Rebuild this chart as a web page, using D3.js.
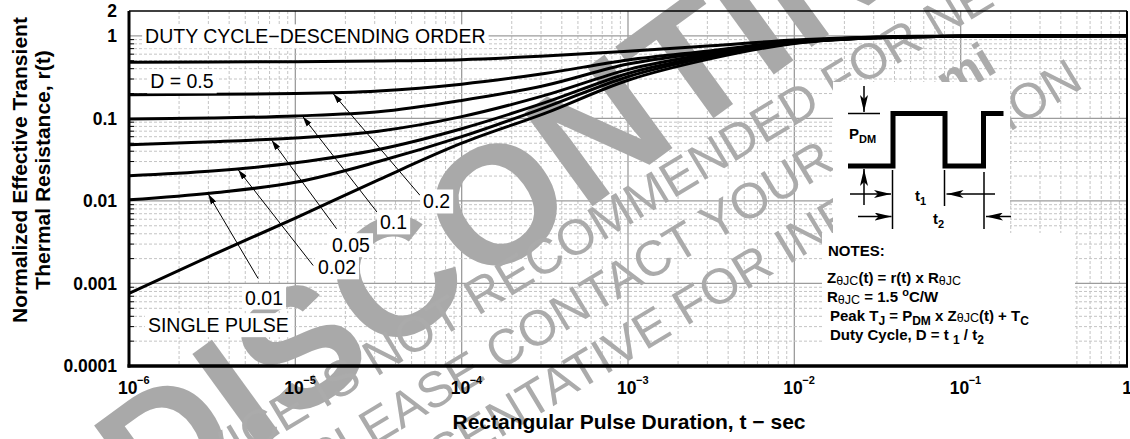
<!DOCTYPE html>
<html><head><meta charset="utf-8">
<script src="https://cdn.jsdelivr.net/npm/d3@7"></script>
<style>
body{margin:0;background:#fff}
svg{display:block}
text{font-family:"Liberation Sans",Arial,Helvetica,sans-serif}
</style>
</head><body>
<svg id="c" width="1130" height="439"></svg>
<script>
// ---------------- data ----------------
const tGrid   = [1e-6, 3.16e-6, 1e-5, 3.16e-5, 1e-4, 3.16e-4, 1e-3, 3.16e-3, 1e-2, 3.16e-2, 1e-1, 1];
const rD05    = [0.48, 0.483, 0.487, 0.497, 0.515, 0.57, 0.65, 0.76, 0.89, 0.97, 0.995, 1.0];
const rD02    = [0.194, 0.196, 0.20, 0.215, 0.26, 0.35, 0.51, 0.66, 0.86, 0.96, 0.99, 1.0];
const rD01    = [0.098, 0.101, 0.107, 0.12, 0.165, 0.25, 0.455, 0.64, 0.85, 0.96, 0.99, 1.0];
const rD005   = [0.048, 0.052, 0.058, 0.07, 0.105, 0.19, 0.39, 0.61, 0.84, 0.95, 0.99, 1.0];
const rD002   = [0.0202, 0.023, 0.029, 0.042, 0.075, 0.155, 0.35, 0.58, 0.83, 0.95, 0.99, 1.0];
const rD001   = [0.0103, 0.0125, 0.0168, 0.03, 0.06, 0.135, 0.32, 0.56, 0.82, 0.95, 0.99, 1.0];
const rSingle = [0.00076, 0.0022, 0.0062, 0.018, 0.05, 0.115, 0.29, 0.53, 0.81, 0.95, 0.99, 1.0];
const seriesList = [rD05, rD02, rD01, rD005, rD002, rD001, rSingle];

const yTickValues = [2, 1, 0.1, 0.01, 0.001, 0.0001];
const yTickLabels = ["2", "1", "0.1", "0.01", "0.001", "0.0001"];
const xTickValues = [1e-6, 1e-5, 1e-4, 1e-3, 1e-2, 1e-1, 1];
const xTickBase   = ["10", "10", "10", "10", "10", "10", "1"];
const xTickExp    = ["\u22126", "\u22125", "\u22124", "\u22123", "\u22122", "\u22121", ""];

// annotation labels with arrows (data coordinates)
const annText   = ["0.2", "0.1", "0.05", "0.02", "0.01"];
const annSeries = [1, 2, 3, 4, 5];
const annLabelT = [5.86e-5, 3.23e-5, 1.66e-5, 1.37e-5, 4.99e-6];
const annLabelR = [0.0081, 0.00452, 0.00239, 0.00129, 0.000556];
const annTailT  = [5.62e-5, 3.10e-5, 1.77e-5, 1.28e-5, 5.97e-6];
const annTailR  = [0.01167, 0.00731, 0.0046, 0.00165, 0.00115];
const annHeadT  = [1.69e-5, 1.11e-5, 7.21e-6, 4.54e-6, 3.0e-6];

// free labels (data coordinates)
const freeText = ["DUTY CYCLE\u2212DESCENDING ORDER", "D = 0.5", "SINGLE PULSE"];
const freeT    = [1.25e-6, 1.34e-6, 1.30e-6];
const freeR    = [0.811, 0.231, 0.000257];

// ---------------- chart ----------------
const svg = d3.select("#c");
const W = 1130, H = 439;
const x = d3.scaleLog().domain([1e-6, 1]).range([129, 1127]);
const y = d3.scaleLog().domain([1e-4, 2]).range([366, 11]);
const isMajor = v => Math.abs(Math.log10(v) - Math.round(Math.log10(v))) < 1e-9;

svg.append("rect").attr("width", W).attr("height", H).attr("fill", "#fff");

// grid
const grid = svg.append("g");
x.ticks().filter(t => t > 1e-6 && t < 1).forEach(t => {
  const maj = isMajor(t);
  grid.append("line").attr("x1", x(t)).attr("x2", x(t)).attr("y1", y(2)).attr("y2", y(1e-4))
    .attr("stroke", maj ? "#9c9c9c" : "#c4c4c4").attr("stroke-width", maj ? 1.3 : 1)
    .attr("stroke-dasharray", maj ? null : "3,2");
});
y.ticks().filter(v => v > 1e-4 && v < 2).forEach(v => {
  const maj = isMajor(v);
  grid.append("line").attr("x1", x(1e-6)).attr("x2", x(1)).attr("y1", y(v)).attr("y2", y(v))
    .attr("stroke", maj ? "#9c9c9c" : "#c4c4c4").attr("stroke-width", maj ? 1.3 : 1)
    .attr("stroke-dasharray", maj ? null : "3,2");
  if (!maj) grid.append("line").attr("x1", x(1e-6)).attr("x2", x(1e-6) + 5).attr("y1", y(v)).attr("y2", y(v))
    .attr("stroke", "#000").attr("stroke-width", 1);
});

// watermark
const wmBig = svg.append("g").attr("fill", "#a9a9a9").attr("transform", "rotate(-36)");
wmBig.append("text").attr("x", -185).attr("y", 515).attr("font-size", 168).attr("font-weight", "bold")
  .text("DISCONTINUED");
const wm = svg.append("g").attr("fill", "#ababab").attr("transform", "rotate(-31)");
wm.append("text").attr("x", -261).attr("y", 517).attr("font-size", 50)
  .text("THIS DEVICE IS NOT RECOMMENDED FOR NEW DESIGN.");
const wl2 = wm.append("text").attr("x", 28).attr("y", 575).attr("font-size", 50);
wl2.append("tspan").text("PLEASE CONTACT YOUR ");
wl2.append("tspan").attr("font-weight", "bold").text("onsemi");
wm.append("text").attr("x", -37).attr("y", 633).attr("font-size", 50)
  .text("REPRESENTATIVE FOR INFORMATION");

// curves
const line = d3.line().x((d, i) => x(tGrid[i])).y(d => y(d)).curve(d3.curveMonotoneX);
const defs = svg.append("defs");
defs.append("clipPath").attr("id", "pc").append("rect")
  .attr("x", x(1e-6)).attr("y", y(2)).attr("width", x(1) - x(1e-6)).attr("height", y(1e-4) - y(2));
const paths = seriesList.map(s =>
  svg.append("path").attr("d", line(s)).attr("fill", "none").attr("stroke", "#000")
    .attr("stroke-width", 3).attr("clip-path", "url(#pc)").node());

function pointOnPath(p, px) {
  let lo = 0, hi = p.getTotalLength();
  for (let k = 0; k < 40; k++) {
    const mid = (lo + hi) / 2;
    if (p.getPointAtLength(mid).x < px) lo = mid; else hi = mid;
  }
  return p.getPointAtLength((lo + hi) / 2);
}

// markers
defs.append("marker").attr("id", "ah").attr("viewBox", "0 0 10 6").attr("refX", 10).attr("refY", 3)
  .attr("markerWidth", 10).attr("markerHeight", 6).attr("markerUnits", "userSpaceOnUse").attr("orient", "auto")
  .append("path").attr("d", "M0,0L10,3L0,6Z").attr("fill", "#000");
defs.append("marker").attr("id", "ah2").attr("viewBox", "0 0 17 8").attr("refX", 17).attr("refY", 4)
  .attr("markerWidth", 17).attr("markerHeight", 8).attr("markerUnits", "userSpaceOnUse").attr("orient", "auto")
  .append("path").attr("d", "M0,0L17,4L0,8L4,4Z").attr("fill", "#000");

// annotation arrows
annText.forEach((txt, i) => {
  const head = pointOnPath(paths[annSeries[i]], x(annHeadT[i]));
  svg.append("line").attr("x1", x(annTailT[i])).attr("y1", y(annTailR[i]))
    .attr("x2", head.x).attr("y2", head.y + 1)
    .attr("stroke", "#000").attr("stroke-width", 1).attr("marker-end", "url(#ah)");
});

function boxedText(txt, px, py, size) {
  const g = svg.append("g");
  const t = g.append("text").attr("x", px).attr("y", py).attr("font-size", size).attr("fill", "#000").text(txt);
  const b = t.node().getBBox();
  g.insert("rect", "text").attr("x", b.x - 3).attr("y", b.y - 1).attr("width", b.width + 6).attr("height", b.height + 2)
    .attr("fill", "#fff");
}
annText.forEach((txt, i) => boxedText(txt, x(annLabelT[i]), y(annLabelR[i]), 19.5));
freeText.forEach((txt, i) => boxedText(txt, x(freeT[i]), y(freeR[i]), 19.5));

// ---------- inset: pulse diagram ----------
const ins = svg.append("g").attr("transform", "translate(833,82)");
ins.append("rect").attr("x", 0).attr("y", 0).attr("width", 177).attr("height", 151).attr("fill", "#fff");
ins.append("path").attr("d", "M15,84H60V31.5H112V84H150.5V31.5H170.5").attr("fill", "none")
  .attr("stroke", "#000").attr("stroke-width", 5);
const thin = (x1, y1, x2, y2, m) => {
  const l = ins.append("line").attr("x1", x1).attr("y1", y1).attr("x2", x2).attr("y2", y2)
    .attr("stroke", "#000").attr("stroke-width", 1.5);
  if (m) l.attr("marker-end", "url(#ah2)");
};
thin(15, 31.5, 47, 31.5);
thin(31, 4, 31, 30, true);
thin(31, 123, 31, 87, true);
thin(59.5, 88, 59.5, 147);
thin(111.5, 88, 111.5, 124);
thin(151, 90, 151, 147);
thin(17, 112, 58, 112, true);
thin(162, 112, 113.5, 112, true);
thin(25, 134.5, 58.5, 134.5, true);
thin(178, 134.5, 153, 134.5, true);
const sub = (g, px, py, main, s, size, ssize) => {
  const t = g.append("text").attr("x", px).attr("y", py).attr("font-size", size).attr("font-weight", "bold");
  t.append("tspan").text(main);
  t.append("tspan").attr("font-size", ssize).attr("dy", 4).text(s);
  return t;
};
sub(ins, 16, 57, "P", "DM", 15, 11);
sub(ins, 82, 119, "t", "1", 15, 11);
sub(ins, 100, 142, "t", "2", 15, 11);

// ---------- inset: notes ----------
const nt = svg.append("g").attr("transform", "translate(822,233)");
nt.append("rect").attr("x", 0).attr("y", 0).attr("width", 253).attr("height", 132).attr("fill", "#fff");
const nline = (py, px) => nt.append("text").attr("x", px).attr("y", py).attr("font-size", 15).attr("font-weight", "bold");
nline(23, 6).text("NOTES:");
let tl = nline(50, 5);
tl.append("tspan").text("Z");
tl.append("tspan").attr("font-size", 12.5).attr("font-weight", "normal").attr("dy", 2).text("\u03B8JC");
tl.append("tspan").attr("dy", -2).text("(t) = r(t) x R");
tl.append("tspan").attr("font-size", 12.5).attr("font-weight", "normal").attr("dy", 2).text("\u03B8JC");
tl = nline(69, 5);
tl.append("tspan").text("R");
tl.append("tspan").attr("font-size", 12.5).attr("font-weight", "normal").attr("dy", 2).text("\u03B8JC");
tl.append("tspan").attr("dy", -2).text(" = 1.5  ");
tl.append("tspan").attr("font-size", 11).attr("dy", -6).text("o");
tl.append("tspan").attr("dy", 6).text("C/W");
tl = nline(88, 8);
tl.append("tspan").text("Peak T");
tl.append("tspan").attr("font-size", 12).attr("dy", 4).text("J");
tl.append("tspan").attr("dy", -4).text(" = P");
tl.append("tspan").attr("font-size", 12).attr("dy", 4).text("DM");
tl.append("tspan").attr("dy", -4).text(" x Z");
tl.append("tspan").attr("font-size", 12.5).attr("font-weight", "normal").attr("dy", 1).text("\u03B8JC");
tl.append("tspan").attr("dy", -1).text("(t) + T");
tl.append("tspan").attr("font-size", 12).attr("dy", 4).text("C");
tl = nline(107, 8);
tl.append("tspan").text("Duty Cycle, D = t  ");
tl.append("tspan").attr("font-size", 12).attr("dy", 4).text("1");
tl.append("tspan").attr("dy", -4).text(" / t");
tl.append("tspan").attr("font-size", 12).attr("dy", 4).text("2");

// ---------- frame ----------
svg.append("line").attr("x1", x(1e-6)).attr("x2", x(1)).attr("y1", y(2)).attr("y2", y(2)).attr("stroke", "#000").attr("stroke-width", 1.5);
svg.append("line").attr("x1", x(1)).attr("x2", x(1)).attr("y1", y(2)).attr("y2", y(1e-4)).attr("stroke", "#000").attr("stroke-width", 2);
svg.append("line").attr("x1", x(1e-6)).attr("x2", x(1e-6)).attr("y1", y(2)).attr("y2", y(1e-4) + 1.5).attr("stroke", "#000").attr("stroke-width", 3);
svg.append("line").attr("x1", x(1e-6) - 1.5).attr("x2", x(1) + 1).attr("y1", y(1e-4)).attr("y2", y(1e-4)).attr("stroke", "#000").attr("stroke-width", 3.5);

// ---------- tick labels ----------
yTickValues.forEach((v, i) => {
  svg.append("text").attr("x", 117).attr("y", y(v)).attr("dy", "0.36em").attr("text-anchor", "end")
    .attr("font-size", 17.5).attr("font-weight", "bold").text(yTickLabels[i]);
});
xTickValues.forEach((v, i) => {
  if (xTickExp[i]) {
    svg.append("text").attr("x", x(v) - 11).attr("y", 394).attr("font-size", 17.5).attr("font-weight", "bold").text(xTickBase[i]);
    svg.append("text").attr("x", x(v) + 8).attr("y", 384).attr("font-size", 11).attr("font-weight", "bold").text(xTickExp[i]);
  } else {
    svg.append("text").attr("x", x(v)).attr("y", 394).attr("text-anchor", "middle").attr("font-size", 17.5).attr("font-weight", "bold").text(xTickBase[i]);
  }
});

// ---------- titles ----------
svg.append("text").attr("transform", "translate(27,170) rotate(-90)").attr("text-anchor", "middle")
  .attr("font-size", 21).attr("font-weight", "bold").text("Normalized Effective Transient");
svg.append("text").attr("transform", "translate(50,170) rotate(-90)").attr("text-anchor", "middle")
  .attr("font-size", 21).attr("font-weight", "bold").text("Thermal Resistance, r(t)");
svg.append("text").attr("x", 629).attr("y", 429).attr("text-anchor", "middle")
  .attr("font-size", 21).attr("font-weight", "bold").text("Rectangular Pulse Duration, t \u2212 sec");
</script>
</body></html>
